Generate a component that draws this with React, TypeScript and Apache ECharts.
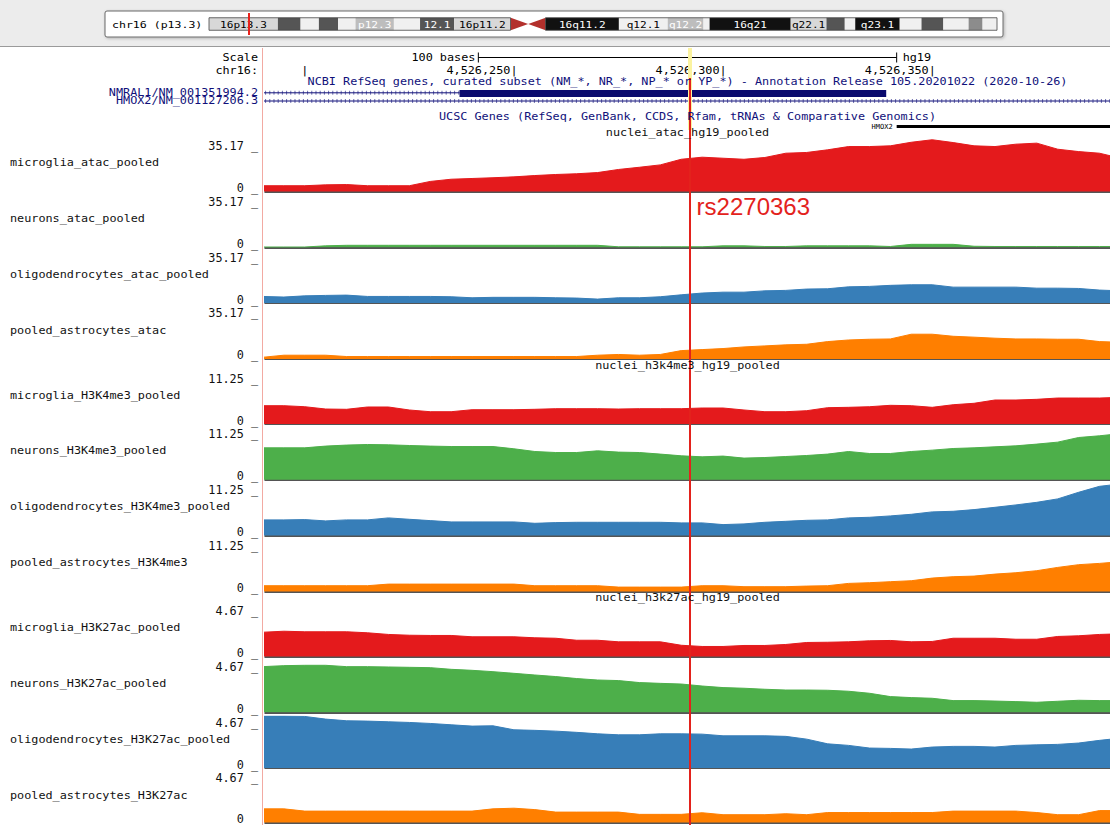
import React, { useEffect, useRef } from 'react';
import * as echarts from 'echarts';

// ---------------- data ----------------
const POSITIONS = [
  4526190, 4526195, 4526200, 4526205, 4526210, 4526215, 4526220, 4526225, 4526230, 4526235,
  4526240, 4526245, 4526250, 4526255, 4526260, 4526265, 4526270, 4526275, 4526280, 4526285,
  4526290, 4526295, 4526300, 4526305, 4526310, 4526315, 4526320, 4526325, 4526330, 4526335,
  4526340, 4526345, 4526350, 4526355, 4526360, 4526365, 4526370, 4526375, 4526380, 4526385,
  4526390, 4526395,
];
const X_MIN = 4526190.5;
const X_MAX = 4526392.5;
const SNP_POSITION = 4526292;
const SNP_LABEL = 'rs2270363';
const RULER_TICKS = [4526200, 4526250, 4526300, 4526350];
const SCALE_BAR_BASES = 100;
const SCALE_BAR_LABELS = ['100 bases', 'hg19'];
const NMRAL1_THICK = [4526237, 4526339];
const HMOX2_UCSC_START = 4526341.5;

const CHR_LABEL = 'chr16 (p13.3)';
const CHR16_LENGTH_MB = 90.354753;
const BAND_NAMES = ['p13.3', 'p13.2', 'p13.13', 'p13.12', 'p13.11', 'p12.3', 'p12.2', 'p12.1', 'p11.2', 'p11.1', 'q11.1', 'q11.2', 'q12.1', 'q12.2', 'q13', 'q21', 'q22.1', 'q22.2', 'q22.3', 'q23.1', 'q23.2', 'q23.3', 'q24.1', 'q24.2', 'q24.3'];
const BAND_STARTS = [0, 7.9, 10.5, 12.6, 14.8, 16.8, 21.2, 24.2, 28.1, 34.6, 36.6, 38.6, 47.0, 52.6, 56.7, 57.4, 66.7, 70.8, 72.9, 74.1, 79.2, 81.7, 84.2, 87.1, 88.7];
const BAND_ENDS = [7.9, 10.5, 12.6, 14.8, 16.8, 21.2, 24.2, 28.1, 34.6, 36.6, 38.6, 47.0, 52.6, 56.7, 57.4, 66.7, 70.8, 72.9, 74.1, 79.2, 81.7, 84.2, 87.1, 88.7, 90.354753];
const BAND_STAINS = ['gpos25', 'gpos75', 'gneg', 'gpos75', 'gneg', 'gpos50', 'gneg', 'gpos75', 'gpos25', 'acen', 'acen', 'gvar', 'gneg', 'gpos50', 'gneg', 'gpos100', 'gpos25', 'gpos75', 'gneg', 'gpos100', 'gneg', 'gpos75', 'gneg', 'gpos62', 'gneg'];
const BAND_LABELS = ['16p13.3', '', '', '', '', 'p12.3', '', '12.1', '16p11.2', '', '', '16q11.2', 'q12.1', 'q12.2', '', '16q21', 'q22.1', '', '', 'q23.1', '', '', '', '', ''];

const GROUP_TITLES = ['nuclei_atac_hg19_pooled', 'nuclei_h3k4me3_hg19_pooled', 'nuclei_h3k27ac_hg19_pooled'];
const GROUP_MAX = [35.17, 11.25, 4.67];
const TRACK_NAMES = [
  'microglia_atac_pooled', 'neurons_atac_pooled', 'oligodendrocytes_atac_pooled', 'pooled_astrocytes_atac',
  'microglia_H3K4me3_pooled', 'neurons_H3K4me3_pooled', 'oligodendrocytes_H3K4me3_pooled', 'pooled_astrocytes_H3K4me3',
  'microglia_H3K27ac_pooled', 'neurons_H3K27ac_pooled', 'oligodendrocytes_H3K27ac_pooled', 'pooled_astrocytes_H3K27ac',
];

const microgliaAtac = [3.9, 3.9, 3.9, 4.5, 4.7, 3.9, 3.9, 3.9, 6.8, 8.3, 8.8, 9.3, 9.9, 10.8, 11.5, 12.0, 12.8, 14.9, 16.4, 18.0, 21.8, 23.2, 22.5, 21.8, 23.0, 25.9, 26.4, 28.2, 30.4, 30.4, 30.9, 33.3, 35.0, 33.1, 30.9, 30.4, 32.0, 32.7, 28.6, 27.0, 25.9, 22.5];
const neuronsAtac = [0.2, 0.2, 0.2, 1.0, 1.35, 1.35, 1.35, 1.35, 1.35, 1.35, 1.35, 1.35, 1.35, 1.35, 1.35, 1.35, 1.35, 0.35, 0.35, 0.35, 0.35, 0.35, 1.0, 1.0, 0.55, 0.55, 1.0, 1.0, 1.0, 1.0, 0.55, 2.0, 2.0, 2.0, 0.7, 0.55, 0.55, 0.55, 0.55, 0.55, 0.55, 0.55];
const oligoAtac = [4.5, 4.1, 4.9, 5.2, 5.4, 4.5, 4.5, 4.5, 4.5, 4.3, 3.6, 3.9, 3.9, 3.9, 3.6, 3.4, 2.7, 3.6, 3.6, 4.3, 5.6, 6.8, 7.4, 7.4, 8.3, 8.6, 9.5, 9.7, 11.0, 11.3, 12.0, 12.4, 12.4, 10.8, 10.8, 10.8, 10.8, 10.1, 10.1, 9.9, 8.8, 8.3];
const astroAtac = [1.1, 2.5, 2.5, 2.5, 1.6, 1.6, 1.6, 1.6, 1.6, 1.6, 1.6, 1.6, 1.6, 1.6, 1.6, 1.6, 2.5, 3.0, 2.5, 3.0, 5.6, 6.3, 7.0, 8.1, 8.8, 9.5, 9.9, 11.7, 12.8, 13.3, 13.5, 16.7, 16.7, 15.3, 14.7, 14.0, 13.5, 13.5, 13.3, 13.3, 11.7, 11.3];
const microgliaH3K4me3 = [3.96, 3.96, 3.74, 3.24, 3.18, 3.68, 3.68, 3.03, 2.66, 2.66, 3.09, 3.09, 3.09, 3.18, 3.31, 3.31, 3.31, 3.24, 3.31, 3.31, 3.31, 3.46, 3.46, 3.03, 2.66, 2.66, 2.88, 3.53, 3.61, 3.74, 4.04, 3.96, 3.61, 4.17, 4.48, 5.19, 5.19, 5.34, 5.62, 5.62, 5.62, 5.78];
const neuronsH3K4me3 = [6.92, 6.92, 6.92, 7.29, 7.51, 7.64, 7.57, 7.42, 7.29, 7.2, 7.2, 7.2, 6.71, 6.12, 5.9, 5.9, 6.27, 5.99, 5.9, 5.56, 5.19, 4.97, 5.13, 4.69, 4.82, 5.04, 5.26, 5.56, 6.12, 5.69, 5.69, 6.12, 6.42, 6.77, 6.92, 7.14, 7.35, 7.72, 8.15, 9.15, 9.52, 10.0];
const oligoH3K4me3 = [3.4, 3.4, 3.46, 3.18, 3.4, 3.4, 3.83, 3.53, 3.24, 2.96, 2.96, 2.96, 2.96, 2.66, 2.81, 2.88, 2.88, 2.88, 2.88, 2.88, 2.75, 2.75, 2.38, 2.53, 2.88, 3.09, 3.31, 3.4, 3.83, 3.96, 4.26, 4.61, 5.13, 5.26, 5.62, 6.12, 6.64, 7.2, 7.94, 9.37, 10.66, 11.18];
const astroH3K4me3 = [1.23, 1.23, 1.23, 1.23, 1.23, 1.23, 1.58, 1.58, 1.58, 1.58, 1.58, 1.58, 1.58, 1.23, 1.23, 1.23, 1.23, 0.93, 0.93, 0.93, 0.93, 1.23, 1.23, 1.02, 1.02, 1.02, 1.15, 1.23, 1.73, 1.88, 2.1, 2.31, 2.88, 3.18, 3.31, 3.74, 4.04, 4.48, 5.19, 5.78, 6.06, 6.42];
const microgliaH3K27ac = [2.18, 2.27, 2.22, 2.22, 2.22, 2.13, 1.98, 1.91, 1.89, 1.89, 1.77, 1.77, 1.77, 1.68, 1.64, 1.46, 1.46, 1.32, 1.32, 1.32, 1.01, 0.9, 0.9, 0.99, 0.99, 1.08, 1.26, 1.28, 1.32, 1.41, 1.44, 1.32, 1.35, 1.64, 1.64, 1.64, 1.55, 1.55, 1.8, 1.86, 1.98, 2.04];
const neuronsH3K27ac = [4.1, 4.19, 4.22, 4.22, 4.1, 4.1, 4.07, 4.04, 4.01, 3.86, 3.77, 3.65, 3.5, 3.35, 3.21, 3.03, 2.9, 2.85, 2.67, 2.6, 2.54, 2.36, 2.22, 2.16, 2.07, 2.0, 2.0, 1.98, 1.89, 1.71, 1.41, 1.32, 1.26, 1.05, 1.05, 1.01, 0.96, 0.9, 0.99, 1.08, 1.05, 1.05];
const oligoH3K27ac = [4.67, 4.67, 4.64, 4.4, 4.25, 4.22, 4.16, 4.1, 4.01, 3.89, 3.77, 3.8, 3.44, 3.39, 3.32, 3.21, 3.08, 2.99, 2.99, 3.08, 3.08, 3.05, 2.9, 2.9, 2.9, 2.85, 2.6, 2.18, 2.04, 1.8, 1.77, 1.71, 1.89, 1.95, 1.95, 1.89, 2.04, 2.09, 2.13, 2.25, 2.49, 2.69];
const astroH3K27ac = [1.26, 1.26, 1.05, 1.05, 1.05, 1.05, 1.05, 1.05, 1.05, 1.05, 1.05, 1.26, 1.32, 1.19, 0.96, 0.96, 0.96, 0.96, 0.75, 0.75, 0.75, 0.9, 0.72, 0.72, 0.72, 0.81, 0.72, 0.92, 0.92, 0.92, 0.92, 0.92, 0.92, 1.05, 1.05, 1.05, 1.05, 0.92, 0.72, 0.72, 1.1, 1.1];

const TRACK_VALUES = [
  microgliaAtac, neuronsAtac, oligoAtac, astroAtac,
  microgliaH3K4me3, neuronsH3K4me3, oligoH3K4me3, astroH3K4me3,
  microgliaH3K27ac, neuronsH3K27ac, oligoH3K27ac, astroH3K27ac,
];

// ---------------- styles / layout ----------------
const MONO = '"DejaVu Sans Mono", "Liberation Mono", monospace';
const FS = 11.8;          // axis label size
const TFS = 9.6;          // bitmap-like text size
const SX = 1.23;          // horizontal stretch to match the UCSC bitmap font width
const CELL_COLORS = ['#e41a1c', '#4daf4a', '#377eb8', '#ff7f00'];
const STAIN_COLORS: Record<string, string> = {
  gneg: '#f0f0f0', gpos25: '#d8d8d8', gpos50: '#bdbdbd', gpos62: '#8c8c8c',
  gpos75: '#555555', gpos100: '#111111', gvar: '#111111', acen: '#b3302c',
};
const DARK_STAINS = ['gpos50', 'gpos62', 'gpos75', 'gpos100', 'gvar'];
const NAVY = '#10107a';
const SNP_RED = '#e3221c';
const PLOT_LEFT = 265;
const PLOT_W = 845;
const LABEL_RIGHT = 258;
const TRACK_H = 52;
const ROW_Y = { scale: 57.5, ruler: 70.5, refseq: 82, nmral1: 92.8, hmox2: 101, ucsc: 117, ucscHmox2: 126.5 };
const trackBase = (t: number) => 191.5 + 55.8 * t + 9.3 * Math.floor(t / 4);
const xToPx = (x: number) => PLOT_LEFT + ((x - X_MIN) * PLOT_W) / (X_MAX - X_MIN);

function textStyle(text: string, align: string, fill: string, size: number) {
  return { text, fill, font: `${size}px ${MONO}`, align, textAlign: align, verticalAlign: 'middle', textVerticalAlign: 'middle' };
}
function monoText(text: string, x: number, y: number, align: string, fill = '#000', size = TFS) {
  return { type: 'text', x, y, z: 6, silent: true, scaleX: SX, style: textStyle(text, align, fill, size) };
}

function buildOption() {
  const grids: any[] = [];
  const xAxes: any[] = [];
  const yAxes: any[] = [];
  const series: any[] = [];
  const graphics: any[] = [];
  const hiddenX = (gi: number, min: number, max: number) => ({ type: 'value', gridIndex: gi, min, max, show: false });
  const hiddenY = (gi: number, min: number, max: number, inverse = false) => ({ type: 'value', gridIndex: gi, min, max, inverse, show: false });

  // --- backgrounds ---
  graphics.push({ type: 'rect', z: 0, silent: true, shape: { x: 0, y: 0, width: 1110, height: 46 }, style: { fill: '#ececec' } });
  graphics.push({ type: 'line', z: 0, silent: true, shape: { x1: 0, y1: 46.5, x2: 1110, y2: 46.5 }, style: { stroke: '#9a9a9a', lineWidth: 1 } });
  graphics.push({ type: 'rect', z: 0, silent: true, shape: { x: 105, y: 11, width: 898, height: 26, r: 2 }, style: { fill: '#ffffff', stroke: '#6a6a6a', lineWidth: 1, shadowBlur: 3, shadowColor: 'rgba(0,0,0,0.25)', shadowOffsetX: 1, shadowOffsetY: 1 } });
  graphics.push(monoText(CHR_LABEL, 112, 24, 'left', '#000', 9.4));
  graphics.push({ type: 'line', z: 1, silent: true, shape: { x1: 262.5, y1: 48, x2: 262.5, y2: 825 }, style: { stroke: '#f2aaa2', lineWidth: 1 } });

  // --- 0: ideogram ---
  grids.push({ left: 209, width: 788, top: 13, height: 22 });
  xAxes.push(hiddenX(0, 0, CHR16_LENGTH_MB));
  yAxes.push(hiddenY(0, 0, 1));
  series.push({
    type: 'custom', xAxisIndex: 0, yAxisIndex: 0, silent: true,
    data: BAND_STARTS.map((s, i) => [s, BAND_ENDS[i]]),
    encode: { x: [0, 1] },
    renderItem: (params: any, api: any) => {
      const i = params.dataIndex;
      const a = api.coord([api.value(0), 0.5]);
      const b = api.coord([api.value(1), 0.5]);
      const cy = a[1];
      const h = 12.5;
      const stain = BAND_STAINS[i];
      const fill = STAIN_COLORS[stain];
      if (stain === 'acen') {
        const isP = BAND_NAMES[i].startsWith('p');
        const pts = isP
          ? [[a[0], cy - h / 2], [b[0], cy], [a[0], cy + h / 2]]
          : [[a[0], cy], [b[0], cy - h / 2], [b[0], cy + h / 2]];
        return { type: 'polygon', shape: { points: pts }, style: { fill } };
      }
      const children: any[] = [
        { type: 'rect', shape: { x: a[0], y: cy - h / 2, width: b[0] - a[0], height: h }, style: { fill } },
      ];
      if (BAND_LABELS[i]) {
        const tc = DARK_STAINS.includes(stain) ? '#ffffff' : '#000000';
        children.push({ type: 'text', x: (a[0] + b[0]) / 2, y: cy, scaleX: 1.18, style: textStyle(BAND_LABELS[i], 'center', tc, 9.4) });
      }
      return { type: 'group', children };
    },
  });
  series.push({
    type: 'line', xAxisIndex: 0, yAxisIndex: 0, data: [[SNP_POSITION / 1e6, 0.5]], symbol: 'none', silent: true, z: 5,
    markLine: { silent: true, symbol: ['none', 'none'], label: { show: false }, lineStyle: { color: '#e8221c', width: 2, type: 'solid' }, data: [{ xAxis: SNP_POSITION / 1e6 }] },
  });
  graphics.push({ type: 'rect', z: 5, silent: true, shape: { x: 209, y: 17.75, width: 301.5, height: 12.5 }, style: { fill: 'none', stroke: '#444', lineWidth: 0.8 } });
  graphics.push({ type: 'rect', z: 5, silent: true, shape: { x: 545.5, y: 17.75, width: 451.5, height: 12.5 }, style: { fill: 'none', stroke: '#444', lineWidth: 0.8 } });

  // --- 1: header (scale, ruler, genes) ---
  grids.push({ left: PLOT_LEFT, width: PLOT_W, top: 48, height: 82 });
  xAxes.push(hiddenX(1, X_MIN, X_MAX));
  yAxes.push(hiddenY(1, 48, 130, true));
  const center = (X_MIN + X_MAX) / 2;
  series.push({
    type: 'line', xAxisIndex: 1, yAxisIndex: 1, silent: true,
    markLine: { silent: true, symbol: ['none', 'none'], label: { show: false }, lineStyle: { color: '#fbf3a0', width: 4, type: 'solid' }, data: [{ xAxis: SNP_POSITION }] },
    data: [[SNP_POSITION, 200]], symbol: 'none',
  });
  const scaleEnds = [center - SCALE_BAR_BASES / 2, center + SCALE_BAR_BASES / 2];
  series.push({
    type: 'line', xAxisIndex: 1, yAxisIndex: 1, silent: true, z: 4,
    data: scaleEnds.map((x) => [x, ROW_Y.scale]),
    symbol: 'rect', symbolSize: [1, 10], itemStyle: { color: '#000' },
    lineStyle: { color: '#000', width: 1 },
  });
  series.push({
    type: 'custom', xAxisIndex: 1, yAxisIndex: 1, silent: true, z: 4,
    data: scaleEnds.map((x) => [x, ROW_Y.scale]),
    renderItem: (params: any, api: any) => {
      const p = api.coord([api.value(0), api.value(1)]);
      const left = params.dataIndex === 0;
      return { type: 'text', x: p[0] + (left ? -3 : 6), y: p[1], scaleX: SX, style: textStyle(SCALE_BAR_LABELS[params.dataIndex], left ? 'right' : 'left', '#000', TFS) };
    },
  });
  series.push({
    type: 'custom', xAxisIndex: 1, yAxisIndex: 1, silent: true, z: 4,
    data: RULER_TICKS.map((v) => [v, ROW_Y.ruler]),
    renderItem: (params: any, api: any) => {
      const v = api.value(0);
      const p = api.coord([v, api.value(1)]);
      const txt = params.dataIndex === 0 ? '|' : `${v.toLocaleString('en-US')}|`;
      return { type: 'text', x: p[0] + 3.6, y: p[1], scaleX: SX, style: textStyle(txt, 'right', '#000', TFS) };
    },
  });
  const geneLine = (x1: number, x2: number, y: number, color: string, width: number, dash?: number[], opacity = 1) => ({
    type: 'line', xAxisIndex: 1, yAxisIndex: 1, silent: true, symbol: 'none',
    data: [[x1, y], [x2, y]],
    lineStyle: { color, width, type: dash || 'solid', cap: 'butt', opacity },
  });
  series.push(geneLine(X_MIN - 5, NMRAL1_THICK[0], ROW_Y.nmral1, NAVY, 1));
  series.push(geneLine(X_MIN - 5, NMRAL1_THICK[0], ROW_Y.nmral1, NAVY, 4, [1, 3.2], 0.6));
  series.push(geneLine(NMRAL1_THICK[0], NMRAL1_THICK[1], ROW_Y.nmral1 + 0.7, '#0a0a6e', 7));
  series.push(geneLine(X_MIN - 5, X_MAX + 5, ROW_Y.hmox2, NAVY, 1));
  series.push(geneLine(X_MIN - 5, X_MAX + 5, ROW_Y.hmox2, NAVY, 4, [1, 3.2], 0.6));
  series.push(geneLine(HMOX2_UCSC_START, X_MAX + 5, ROW_Y.ucscHmox2, '#000', 3));

  graphics.push(monoText('Scale', LABEL_RIGHT, ROW_Y.scale, 'right'));
  graphics.push(monoText('chr16:', LABEL_RIGHT, ROW_Y.ruler, 'right'));
  graphics.push(monoText('NMRAL1/NM_001351994.2', LABEL_RIGHT, ROW_Y.nmral1, 'right', NAVY));
  graphics.push(monoText('HMOX2/NM_001127206.3', LABEL_RIGHT, ROW_Y.hmox2, 'right', NAVY));
  graphics.push(monoText('NCBI RefSeq genes, curated subset (NM_*, NR_*, NP_* or YP_*) - Annotation Release 105.20201022 (2020-10-26)', PLOT_LEFT + PLOT_W / 2, ROW_Y.refseq, 'center', NAVY));
  graphics.push(monoText('UCSC Genes (RefSeq, GenBank, CCDS, Rfam, tRNAs & Comparative Genomics)', PLOT_LEFT + PLOT_W / 2, ROW_Y.ucsc, 'center', NAVY));
  graphics.push({ type: 'text', x: xToPx(HMOX2_UCSC_START) - 4, y: ROW_Y.ucscHmox2 + 0.5, z: 6, silent: true, style: textStyle('HMOX2', 'right', '#000', 7) });

  // --- tracks ---
  TRACK_VALUES.forEach((vals, t) => {
    const gi = 2 + t;
    const g = Math.floor(t / 4);
    const M = GROUP_MAX[g];
    const color = CELL_COLORS[t % 4];
    const base = trackBase(t);
    grids.push({ left: PLOT_LEFT, width: PLOT_W, top: base - TRACK_H, height: TRACK_H });
    xAxes.push({
      type: 'value', gridIndex: gi, min: X_MIN, max: X_MAX,
      axisLine: { show: true, onZero: false, lineStyle: { color: '#1c1c1c', width: 1.5 } },
      axisTick: { show: false }, axisLabel: { show: false }, splitLine: { show: false },
    });
    yAxes.push({
      type: 'value', gridIndex: gi, min: 0, max: M, interval: M,
      axisLine: { show: false }, axisTick: { show: false }, splitLine: { show: false },
      axisLabel: {
        show: true, showMinLabel: true, showMaxLabel: true, margin: 7, color: '#111',
        fontFamily: MONO, fontSize: FS,
        formatter: (v: number) => (v === 0 ? '{lo|0 _}' : `{hi|${M.toFixed(2)} _}`),
        rich: {
          lo: { fontFamily: MONO, fontSize: FS, color: '#111', padding: [0, 0, 7, 0] },
          hi: { fontFamily: MONO, fontSize: FS, color: '#111', padding: [13, 0, 0, 0] },
        },
      },
    });
    series.push({
      type: 'line', xAxisIndex: gi, yAxisIndex: gi, silent: true, symbol: 'none', clip: true,
      data: POSITIONS.map((p, i) => [p, vals[i]]),
      lineStyle: { color, width: 1 },
      areaStyle: { color, opacity: 1 },
    });
    graphics.push(monoText(TRACK_NAMES[t], 10, base - 28.5, 'left', '#111'));
    if (t % 4 === 0) {
      graphics.push(monoText(GROUP_TITLES[g], PLOT_LEFT + PLOT_W / 2, base - TRACK_H - 6.5, 'center', '#111'));
    }
  });

  // --- SNP overlay ---
  const oi = grids.length;
  grids.push({ left: PLOT_LEFT, width: PLOT_W, top: 78, height: 747 });
  xAxes.push(hiddenX(oi, X_MIN, X_MAX));
  yAxes.push(hiddenY(oi, 0, 1));
  series.push({
    type: 'line', xAxisIndex: oi, yAxisIndex: oi, silent: true, z: 20, symbol: 'none',
    data: [[SNP_POSITION, 5]],
    markLine: { silent: true, symbol: ['none', 'none'], label: { show: false }, lineStyle: { color: SNP_RED, width: 2, type: 'solid' }, data: [{ xAxis: SNP_POSITION }] },
  });
  graphics.push({
    type: 'text', z: 21, silent: true, x: xToPx(SNP_POSITION) + 7, y: trackBase(1) - 41,
    style: { text: SNP_LABEL, fill: SNP_RED, font: '24px "Liberation Sans", Arial, sans-serif', align: 'left', textAlign: 'left', verticalAlign: 'middle', textVerticalAlign: 'middle' },
  });

  return {
    animation: false,
    backgroundColor: '#ffffff',
    grid: grids,
    xAxis: xAxes,
    yAxis: yAxes,
    series,
    graphic: { elements: graphics },
  };
}

export default function App() {
  const ref = useRef<HTMLDivElement>(null);
  useEffect(() => {
    document.body.style.margin = '0';
    const chart = echarts.init(ref.current as HTMLDivElement, null, { renderer: 'svg' });
    chart.setOption(buildOption() as any);
    return () => chart.dispose();
  }, []);
  return <div ref={ref} style={{ width: 1110, height: 825 }} />;
}
